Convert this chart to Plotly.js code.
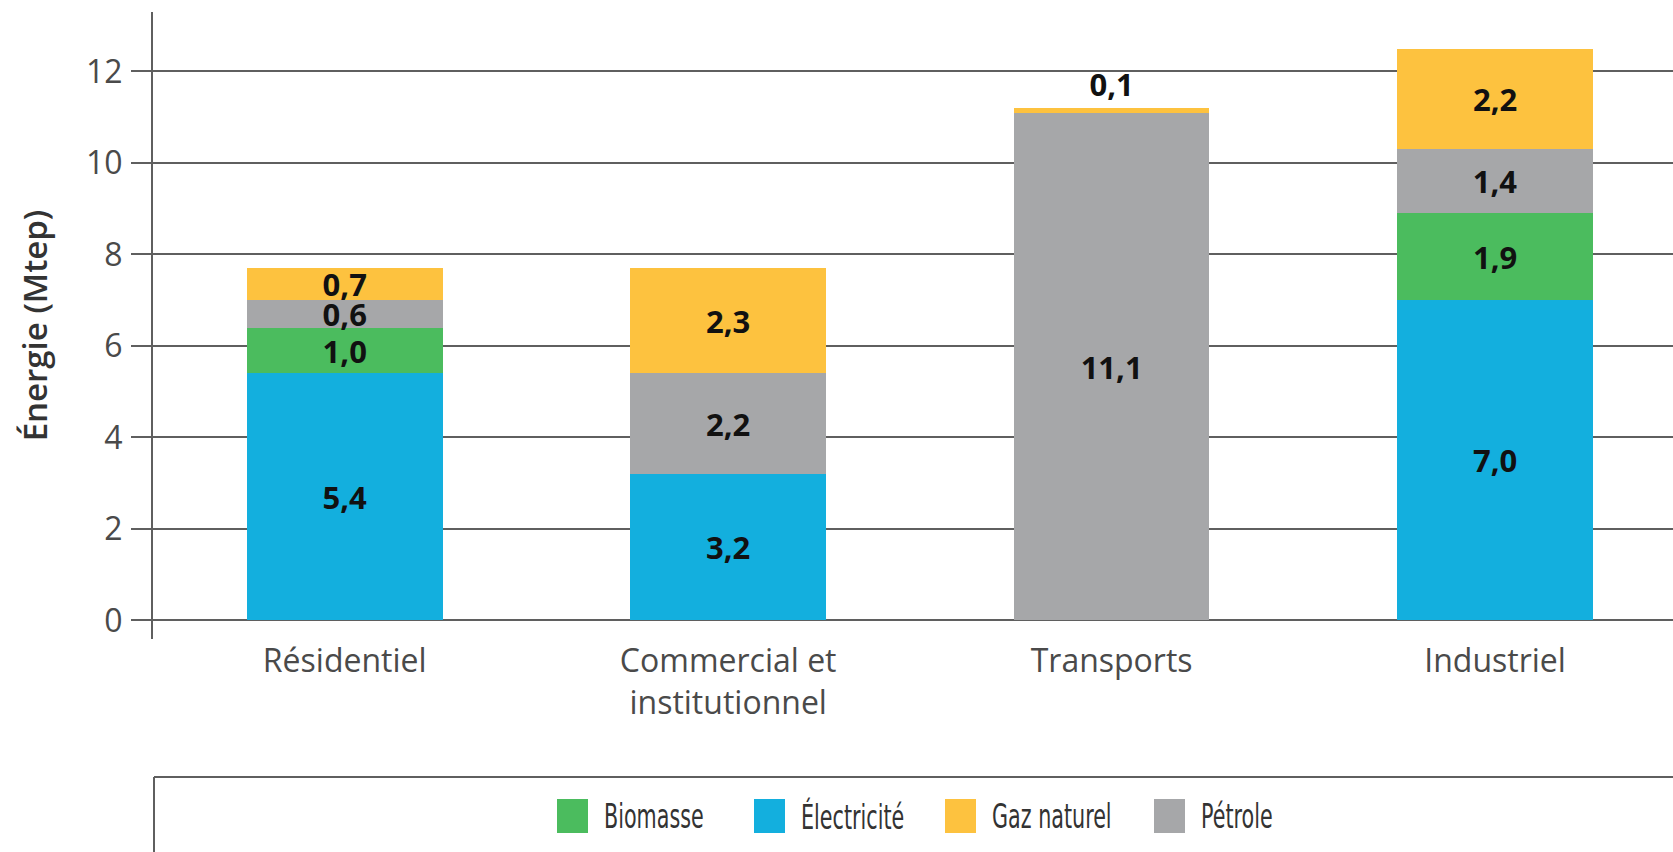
<!DOCTYPE html>
<html>
<head>
<meta charset="utf-8">
<script src="https://cdn.plot.ly/plotly-3.0.1.min.js"></script>
<style>
  html, body { margin: 0; padding: 0; background: #fff; }
  #plot { width: 1673px; height: 852px; }
</style>
</head>
<body>
<div id="plot"></div>
<script>
// Données (Mtep)
var secteurs = ['Résidentiel', 'Commercial et<br>institutionnel', 'Transports', 'Industriel'];
var electricite = [5.4, 3.2, null, 7.0];
var biomasse = [1.0, null, null, 1.9];
var petrole = [0.6, 2.2, 11.1, 1.4];
var gazNaturel = [0.7, 2.3, 0.1, 2.2];

var yTicks = [0, 2, 4, 6, 8, 10, 12];
var legendeNoms = ['Biomasse', 'Électricité', 'Gaz naturel', 'Pétrole'];

var couleurs = {
  'Biomasse': '#4bbc5e',
  'Électricité': '#13afde',
  'Gaz naturel': '#fdc23f',
  'Pétrole': '#a6a7a9'
};

var W = 1673, H = 852;
var ml = 153, mr = 0, mt = 12, mb = 213;
var plotW = W - ml - mr, plotH = H - mt - mb;

function fmt(v) {
  return v == null ? '' : v.toFixed(1).replace('.', ',');
}

function barTrace(name, values, positions) {
  return {
    type: 'bar',
    name: name,
    x: secteurs,
    y: values,
    text: values.map(fmt),
    textposition: positions || 'inside',
    insidetextanchor: 'middle',
    constraintext: 'none',
    textangle: 0,
    cliponaxis: false,
    textfont: { family: 'Open Sans, sans-serif', size: 31, color: '#111', weight: 700 },
    marker: { color: couleurs[name], line: { width: 0 } },
    hoverinfo: 'name+y',
    showlegend: false
  };
}

// ordre d'empilement : du bas vers le haut
var data = [
  barTrace('Électricité', electricite),
  barTrace('Biomasse', biomasse),
  barTrace('Pétrole', petrole),
  barTrace('Gaz naturel', gazNaturel, ['inside', 'inside', 'outside', 'inside'])
];

// conversions pixels -> coordonnées papier (pour la légende encadrée)
function px(x) { return (x - ml) / plotW; }
function py(y) { return (H - mb - y) / plotH; }

var gris = '#5f5f5f';
var shapes = [
  { type: 'line', xref: 'paper', yref: 'paper', x0: px(154), x1: px(W), y0: py(777), y1: py(777),
    line: { color: gris, width: 2 } },
  { type: 'line', xref: 'paper', yref: 'paper', x0: px(154), x1: px(154), y0: py(777), y1: py(H + 2),
    line: { color: gris, width: 2 } }
];
var annotations = [];

var legendeX = [557, 754, 945, 1154];
var legendeY = 816;
legendeNoms.forEach(function (nom, i) {
  shapes.push({
    type: 'rect', xref: 'paper', yref: 'paper',
    x0: px(legendeX[i]), x1: px(legendeX[i] + 31),
    y0: py(legendeY - 17), y1: py(legendeY + 17),
    fillcolor: couleurs[nom], line: { width: 0 }
  });
  annotations.push({
    xref: 'paper', yref: 'paper',
    x: px(legendeX[i] + 46), y: py(legendeY),
    xanchor: 'left', yanchor: 'middle',
    text: nom, showarrow: false, borderpad: 0,
    font: { family: 'DejaVu Sans Condensed, DejaVu Sans, sans-serif', size: 23, color: '#333' }
  });
});

var layout = {
  width: W,
  height: H,
  margin: { l: ml, r: mr, t: mt, b: mb },
  paper_bgcolor: '#fff',
  plot_bgcolor: '#fff',
  barmode: 'stack',
  bargap: 0.49,
  showlegend: false,
  font: { family: 'Open Sans, sans-serif', color: '#4a4a4a' },
  xaxis: {
    type: 'category',
    range: [-0.5, 3.464],
    showgrid: false,
    showline: false,
    ticks: '',
    tickfont: { size: 32, color: '#4a4a4a' },
    fixedrange: true
  },
  yaxis: {
    range: [-0.405, 13.3],
    tickvals: yTicks,
    ticktext: yTicks.map(String),
    showgrid: true,
    gridcolor: gris,
    gridwidth: 2,
    zeroline: true,
    zerolinecolor: gris,
    zerolinewidth: 2,
    showline: true,
    linecolor: gris,
    linewidth: 2,
    ticks: 'outside',
    ticklen: 20,
    tickwidth: 2,
    tickcolor: gris,
    ticklabelstandoff: 2,
    tickfont: { size: 32, color: '#4a4a4a' },
    title: {
      text: 'Énergie (Mtep)',
      font: { size: 33, color: '#333', weight: 600 },
      standoff: 28
    },
    fixedrange: true
  },
  shapes: shapes,
  annotations: annotations
};

Plotly.newPlot('plot', data, layout, { displayModeBar: false }).then(function (gd) {
  // texte de légende étroit et haut, comme la police condensée de l'original
  gd.querySelectorAll('.annotation-text').forEach(function (t) {
    var b = t.getBBox();
    var cx = b.x, cy = b.y + b.height / 2;
    t.setAttribute('transform',
      'translate(' + cx + ',' + cy + ') scale(1,1.5) translate(' + (-cx) + ',' + (-cy) + ')');
  });
});
</script>
</body>
</html>
